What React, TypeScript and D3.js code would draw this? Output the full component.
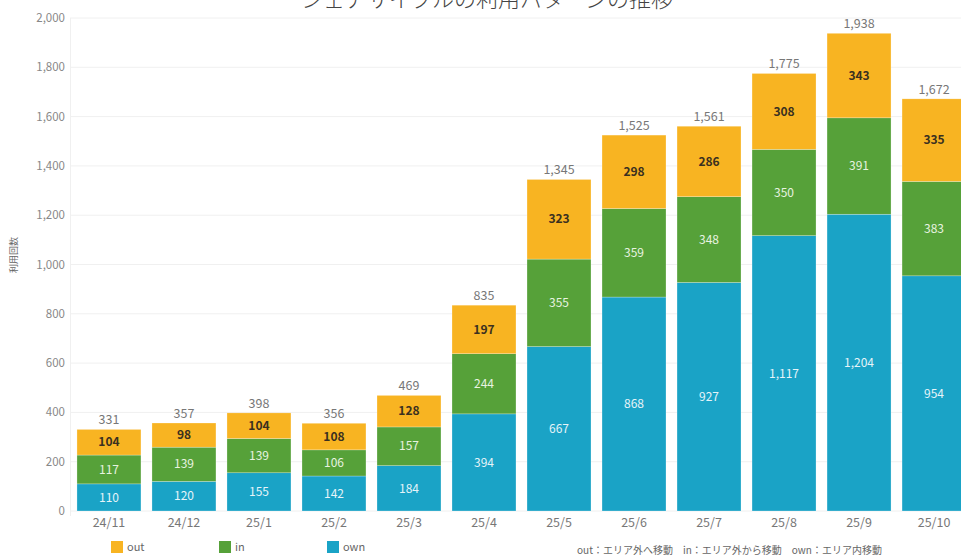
import React from 'react'
import * as d3 from 'd3'

const months = ['24/11', '24/12', '25/1', '25/2', '25/3', '25/4', '25/5', '25/6', '25/7', '25/8', '25/9', '25/10']
const ownValues = [110, 120, 155, 142, 184, 394, 667, 868, 927, 1117, 1204, 954]
const inValues = [117, 139, 139, 106, 157, 244, 355, 359, 348, 350, 391, 383]
const outValues = [104, 98, 104, 108, 128, 197, 323, 298, 286, 308, 343, 335]
const yTicks = [0, 200, 400, 600, 800, 1000, 1200, 1400, 1600, 1800, 2000]

const seriesKeys = ['own', 'in', 'out']
const colors: Record<string, string> = { out: '#F8B422', in: '#56A139', own: '#1AA3C6' }
const labelColors: Record<string, string> = { out: '#3a3020', in: '#e8f3e0', own: '#e6f4f9' }

const font = '"Noto Sans CJK JP", "Noto Sans", sans-serif'

const App: React.FC = () => {
  const width = 961
  const height = 557

  const rows = months.map((m, i) => ({ month: m, own: ownValues[i], in: inValues[i], out: outValues[i] }))
  const stacked = d3.stack<any>().keys(seriesKeys)(rows)

  const x = d3.scaleBand().domain(months).range([71.5, 971.5]).paddingInner(0.147).paddingOuter(0.073)
  const y = d3.scaleLinear().domain([0, 2000]).range([511, 18])

  const fmt = d3.format(',')

  return (
    <svg width={width} height={height} style={{ position: 'absolute', left: 0, top: 0, background: '#fff' }}>
      <text x={487} y={7} textAnchor="middle" fontFamily={font} fontSize={22} fontWeight={300} fill="#444">
        シェアサイクルの利用パターンの推移
      </text>

      {/* grid */}
      {yTicks.map(t => (
        <g key={t}>
          <line x1={70} x2={width} y1={y(t)} y2={y(t)} stroke="#f0f0f0" strokeWidth={1} />
          <text x={65} y={y(t)} dy="0.35em" textAnchor="end" fontFamily={font} fontSize={11.5} fill="#888">
            {fmt(t)}
          </text>
        </g>
      ))}
      <line x1={70.5} x2={70.5} y1={y(2000)} y2={516} stroke="#f0f0f0" />

      <text transform="translate(17,255) rotate(-90)" textAnchor="middle" fontFamily={font} fontSize={9} fill="#666">
        利用回数
      </text>

      {/* bars */}
      {stacked.map(layer => (
        <g key={layer.key}>
          {layer.map((d, i) => (
            <g key={i}>
              <rect
                x={x(months[i])}
                y={y(d[1])}
                width={x.bandwidth()}
                height={y(d[0]) - y(d[1])}
                fill={colors[layer.key]}
                stroke="#fff"
                strokeOpacity={0.5}
                strokeWidth={0.5}
              />
              <text
                x={(x(months[i]) as number) + x.bandwidth() / 2}
                y={y((d[0] + d[1]) / 2)}
                dy="0.35em"
                textAnchor="middle"
                fontFamily={font}
                fontSize={12}
                fontWeight={layer.key === 'out' ? 600 : 400}
                fill={labelColors[layer.key]}
              >
                {fmt(d[1] - d[0])}
              </text>
            </g>
          ))}
        </g>
      ))}

      {/* totals */}
      {rows.map((r, i) => {
        const total = r.own + r.in + r.out
        return (
          <text
            key={r.month}
            x={(x(r.month) as number) + x.bandwidth() / 2}
            y={y(total) - 5}
            textAnchor="middle"
            fontFamily={font}
            fontSize={12.5}
            fill="#777"
          >
            {fmt(total)}
          </text>
        )
      })}

      {/* x axis labels */}
      {months.map(m => (
        <text
          key={m}
          x={(x(m) as number) + x.bandwidth() / 2}
          y={523}
          dy="0.35em"
          textAnchor="middle"
          fontFamily={font}
          fontSize={12.5}
          fill="#777"
        >
          {m}
        </text>
      ))}

      {/* legend */}
      {[
        { key: 'out', x: 111 },
        { key: 'in', x: 219 },
        { key: 'own', x: 327 },
      ].map(l => (
        <g key={l.key}>
          <rect x={l.x} y={541} width={12} height={12} fill={colors[l.key]} />
          <text x={l.x + 16} y={547} dy="0.35em" fontFamily={font} fontSize={11} fill="#666">
            {l.key}
          </text>
        </g>
      ))}
      <text x={577} y={550} dy="0.35em" fontFamily={font} fontSize={10} fill="#666">
        out：エリア外へ移動　in：エリア外から移動　own：エリア内移動
      </text>
    </svg>
  )
}

export default App
